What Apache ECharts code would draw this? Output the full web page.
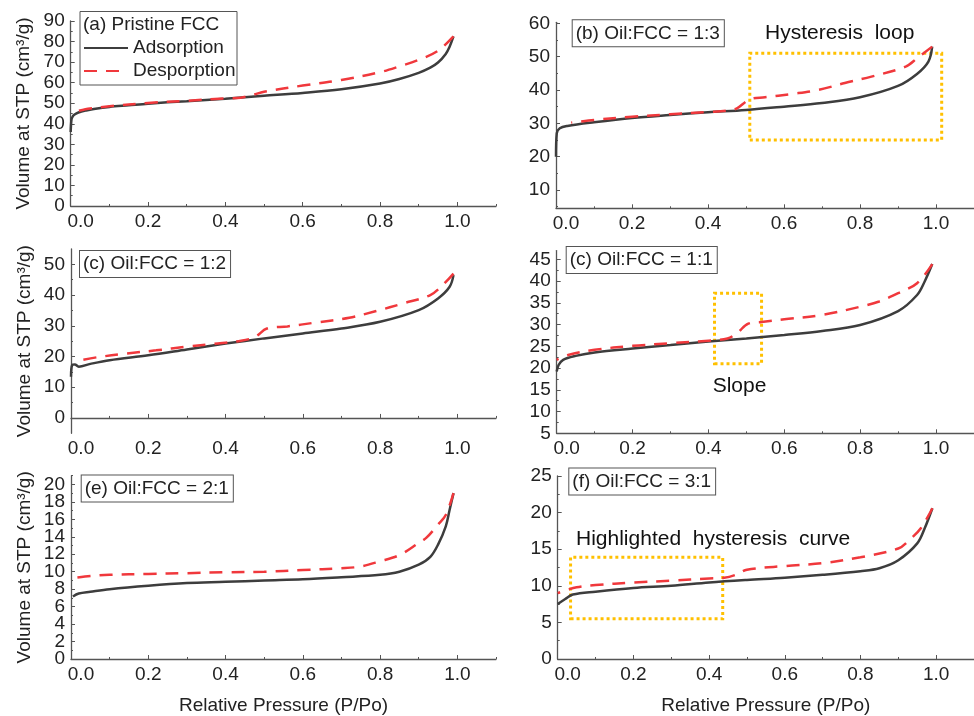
<!DOCTYPE html>
<html>
<head>
<meta charset="utf-8">
<script src="https://cdn.jsdelivr.net/npm/echarts@6/dist/echarts.min.js"></script>
<style>html,body{margin:0;padding:0;background:#fff}#main{width:974px;height:716px}</style>
</head>
<body>
<div id="main"></div>
<script>
var FONT = "'Liberation Sans', Arial, sans-serif";
var myChart = echarts.init(document.getElementById('main'));

// shared x axis
var xTicks = [0, 0.2, 0.4, 0.6, 0.8, 1.0];
var xMinor = [0.1, 0.3, 0.5, 0.7, 0.9, 1.1];
var seriesNames = ['Adsorption', 'Desporption'];
var titles = ['(a) Pristine FCC', '(b) Oil:FCC = 1:3', '(c) Oil:FCC = 1:2', '(c) Oil:FCC = 1:1', '(e) Oil:FCC = 2:1', '(f) Oil:FCC = 3:1'];

// (a) pristine
var pAdsA = [0, 0.002, 0.005, 0.01, 0.02, 0.04, 0.06, 0.1, 0.15, 0.2, 0.3, 0.4, 0.5, 0.6, 0.7, 0.8, 0.85, 0.9, 0.93, 0.95, 0.97, 0.98, 0.99];
var vAdsA = [36, 42, 43.5, 44.5, 45.5, 46.5, 47.2, 48.2, 49.0, 49.8, 51.0, 52.2, 53.6, 55.0, 56.8, 59.6, 61.8, 64.8, 67.3, 69.8, 74, 77.5, 82.5];
var pDesA = [0.99, 0.95, 0.9, 0.85, 0.8, 0.7, 0.6, 0.5, 0.47, 0.44, 0.4, 0.3, 0.2, 0.1, 0.05, 0.02];
var vDesA = [82.5, 75.5, 71.1, 67.9, 65.1, 61.3, 58.6, 55.6, 54.0, 52.7, 52.3, 51.2, 50.1, 48.5, 47.4, 46.3];
var yTicksA = [0, 10, 20, 30, 40, 50, 60, 70, 80, 90];
var yMinorA = [5, 15, 25, 35, 45, 55, 65, 75, 85];

// (b) 1:3
var pAdsB = [0, 0.002, 0.01, 0.03, 0.1, 0.2, 0.3, 0.4, 0.5, 0.6, 0.7, 0.8, 0.9, 0.95, 0.98, 0.99];
var vAdsB = [20, 27, 28.5, 29.2, 30.3, 31.6, 32.5, 33.3, 34.0, 35.0, 36.1, 37.8, 41.2, 44.8, 48.5, 53];
var pDesB = [0.99, 0.95, 0.92, 0.83, 0.76, 0.69, 0.62, 0.55, 0.51, 0.476, 0.45, 0.4, 0.3, 0.2, 0.1, 0.04];
var vDesB = [53, 49.5, 47, 44, 42.1, 40.0, 38.8, 37.8, 37.2, 34.5, 33.8, 33.4, 32.7, 32.0, 31.0, 30.2];
var yTicksB = [10, 20, 30, 40, 50, 60];
var yMinorB = [5, 15, 25, 35, 45, 55];
var boxB = [[0.51, 25], [1.015, 51]];

// (c) 1:2
var pAdsC = [0, 0.003, 0.01, 0.02, 0.05, 0.1, 0.2, 0.3, 0.4, 0.5, 0.6, 0.7, 0.8, 0.9, 0.95, 0.98, 0.99];
var vAdsC = [13.4, 17.2, 17.4, 16.7, 17.6, 18.8, 20.4, 22.3, 24.2, 25.9, 27.5, 29.1, 31.3, 35.1, 38.9, 42.7, 46.5];
var pDesC = [0.99, 0.96, 0.93, 0.86, 0.79, 0.72, 0.63, 0.56, 0.507, 0.477, 0.44, 0.37, 0.3, 0.22, 0.14, 0.07, 0.03];
var vDesC = [47, 43, 40, 37.3, 34.8, 32.6, 31.0, 29.8, 29.1, 26.4, 25.1, 24.1, 23.2, 22.0, 20.9, 19.8, 18.9];
var yTicksC = [0, 10, 20, 30, 40, 50];
var yMinorC = [5, 15, 25, 35, 45];

// (d) 1:1
var pAdsD = [0, 0.005, 0.017, 0.05, 0.1, 0.2, 0.3, 0.4, 0.5, 0.6, 0.7, 0.8, 0.9, 0.95, 0.97, 0.99];
var vAdsD = [19.2, 20.7, 21.9, 22.8, 23.6, 24.5, 25.3, 26.1, 26.8, 27.6, 28.5, 29.9, 33.1, 36.8, 39.9, 43.9];
var pDesD = [0.99, 0.95, 0.9, 0.85, 0.8, 0.7, 0.6, 0.54, 0.505, 0.475, 0.45, 0.4, 0.3, 0.2, 0.1, 0.03, 0];
var vDesD = [43.9, 39.5, 37.2, 35.3, 34.1, 32.2, 31.2, 30.6, 30.2, 28.0, 26.8, 26.3, 25.7, 25.1, 24.2, 23.0, 21.9];
var yTicksD = [5, 10, 15, 20, 25, 30, 35, 40, 45];
var yMinorD = [7.5, 12.5, 17.5, 22.5, 27.5, 32.5, 37.5, 42.5];
var boxD = [[0.416, 21], [0.54, 37.2]];

// (e) 2:1
var pAdsE = [0.005, 0.02, 0.05, 0.1, 0.2, 0.3, 0.4, 0.5, 0.6, 0.7, 0.8, 0.85, 0.9, 0.93, 0.95, 0.97, 0.98, 0.99];
var vAdsE = [7.16, 7.5, 7.7, 8.0, 8.4, 8.7, 8.84, 9.0, 9.14, 9.37, 9.64, 10.0, 10.8, 11.7, 13.1, 15.2, 17.1, 19.0];
var pDesE = [0.99, 0.97, 0.95, 0.92, 0.9, 0.85, 0.8, 0.75, 0.7, 0.6, 0.5, 0.4, 0.3, 0.2, 0.1, 0.05, 0.005];
var vDesE = [19.0, 16.5, 15.4, 13.9, 13.3, 11.9, 11.2, 10.6, 10.4, 10.2, 10.0, 9.94, 9.83, 9.75, 9.64, 9.5, 9.26];
var yTicksE = [0, 2, 4, 6, 8, 10, 12, 14, 16, 18, 20];
var yMinorE = [1, 3, 5, 7, 9, 11, 13, 15, 17, 19, 21];

// (f) 3:1
var pAdsF = [0, 0.02, 0.04, 0.1, 0.2, 0.3, 0.4, 0.5, 0.6, 0.7, 0.8, 0.85, 0.9, 0.95, 0.97, 0.99];
var vAdsF = [7.5, 8.2, 8.8, 9.2, 9.7, 10.0, 10.45, 10.8, 11.1, 11.5, 12.0, 12.4, 13.5, 15.8, 17.9, 20.6];
var pDesF = [0.99, 0.96, 0.93, 0.9, 0.8, 0.7, 0.6, 0.5, 0.47, 0.44, 0.4, 0.3, 0.2, 0.1, 0.05, 0];
var vDesF = [20.6, 17.9, 16.3, 15.1, 13.9, 13.1, 12.7, 12.2, 11.5, 11.1, 11.0, 10.7, 10.45, 10.1, 9.8, 9.0];
var yTicksF = [0, 5, 10, 15, 20, 25];
var yMinorF = [2.5, 7.5, 12.5, 17.5, 22.5];
var boxF = [[0.034, 5.5], [0.436, 13.9]];

var yRange = [[0, 90], [4.5, 60.3], [-5, 55], [5, 47], [0, 21], [0, 25]];

function pairs(px, py) {
  return px.map(function (x, i) { return [x, py[i]]; });
}
// labels are split over two stacked axes so close ones are not dropped
function everyOther(arr, odd) {
  return arr.filter(function (v, i) { return (i % 2 === 1) === odd; });
}

var panels = [
  {grid: {left: 70.7, top: 21, width: 425.3, height: 185}, ads: pairs(pAdsA, vAdsA), des: pairs(pDesA, vDesA), yT: yTicksA, yM: yMinorA, yName: true},
  {grid: {left: 556, top: 22.3, width: 425.4, height: 186}, ads: pairs(pAdsB, vAdsB), des: pairs(pDesB, vDesB), yT: yTicksB, yM: yMinorB, box: boxB},
  {grid: {left: 71, top: 249, width: 425, height: 184.3}, ads: pairs(pAdsC, vAdsC), des: pairs(pDesC, vDesC), yT: yTicksC, yM: yMinorC, yName: true},
  {grid: {left: 556.7, top: 250.6, width: 425, height: 182.7}, ads: pairs(pAdsD, vAdsD), des: pairs(pDesD, vDesD), yT: yTicksD, yM: yMinorD, box: boxD},
  {grid: {left: 71, top: 475.7, width: 425, height: 184}, ads: pairs(pAdsE, vAdsE), des: pairs(pDesE, vDesE), yT: yTicksE, yM: yMinorE, yName: true, xName: true},
  {grid: {left: 557.7, top: 476, width: 425, height: 183.3}, ads: pairs(pAdsF, vAdsF), des: pairs(pDesF, vDesF), yT: yTicksF, yM: yMinorF, box: boxF, xName: true}
];

var axisColor = '#555';
var yLabelStyle = {margin: 6, fontSize: 19, color: '#222', fontFamily: FONT, showMinLabel: true, showMaxLabel: true};
var grids = [], xAxes = [], yAxes = [], series = [];

panels.forEach(function (p, i) {
  grids.push(p.grid);
  xAxes.push({
    type: 'value', gridIndex: i, position: 'bottom', min: 0, max: 1.1,
    axisLine: {lineStyle: {color: axisColor, width: 1.3}},
    axisTick: {inside: true, length: 4, customValues: xTicks, lineStyle: {color: axisColor}},
    axisLabel: {
      customValues: xTicks, margin: 6, fontSize: 19, color: '#222', fontFamily: FONT,
      showMinLabel: true, showMaxLabel: true,
      formatter: function (v) { return v === 0 ? '{f|0.0}' : v.toFixed(1); },
      rich: {f: {padding: [0, 0, 0, 20], fontSize: 19, color: '#222', fontFamily: FONT}}
    },
    splitLine: {show: false},
    name: p.xName ? 'Relative Pressure (P/Po)' : '',
    nameLocation: 'middle', nameGap: 37,
    nameTextStyle: {fontSize: 19, color: '#222', fontFamily: FONT}
  });
  xAxes.push({
    type: 'value', gridIndex: i, position: 'bottom', min: 0, max: 1.1,
    axisLine: {show: false}, axisLabel: {show: false}, splitLine: {show: false},
    axisTick: {inside: true, length: 2, customValues: xMinor, lineStyle: {color: axisColor}}
  });
  yAxes.push({
    type: 'value', gridIndex: i, position: 'left', min: yRange[i][0], max: yRange[i][1],
    axisLine: {show: true, lineStyle: {color: axisColor, width: 1.3}},
    axisTick: {show: true, inside: true, length: 4, customValues: p.yT, lineStyle: {color: axisColor}},
    axisLabel: Object.assign({customValues: everyOther(p.yT, false)}, yLabelStyle),
    splitLine: {show: false},
    name: p.yName ? 'Volume at STP (cm³/g)' : '',
    nameLocation: 'middle', nameGap: 37,
    nameTextStyle: {fontSize: 19, color: '#222', fontFamily: FONT}
  });
  yAxes.push({
    type: 'value', gridIndex: i, position: 'left', min: yRange[i][0], max: yRange[i][1],
    axisLine: {show: false}, splitLine: {show: false},
    axisLabel: Object.assign({customValues: everyOther(p.yT, true)}, yLabelStyle),
    axisTick: {show: true, inside: true, length: 2, customValues: p.yM, lineStyle: {color: axisColor}}
  });

  series.push({
    name: seriesNames[0], type: 'line', xAxisIndex: 2 * i, yAxisIndex: 2 * i,
    data: p.ads, showSymbol: false, symbol: 'none', smooth: 0.35,
    lineStyle: {color: '#3d3d3d', width: 2.5}, itemStyle: {color: '#3d3d3d'}
  });
  var des = {
    name: seriesNames[1], type: 'line', xAxisIndex: 2 * i, yAxisIndex: 2 * i,
    data: p.des, showSymbol: false, symbol: 'none', smooth: 0.35,
    lineStyle: {color: '#f0383c', width: 2.5, type: [13, 9]}, itemStyle: {color: '#f0383c'}
  };
  if (p.box) {
    des.markArea = {
      silent: true,
      itemStyle: {color: 'rgba(0,0,0,0)', borderColor: '#ffc000', borderWidth: 3, borderType: [3, 3]},
      data: [[{coord: p.box[0]}, {coord: p.box[1]}]]
    };
  }
  series.push(des);
});

// label boxes
var labelPos = [null, [572.7, 33.3], [80, 264], [566.7, 260], [81.7, 488.5], [569.3, 481.5]];
var graphics = [
  {type: 'rect', shape: {x: 80, y: 11.5, width: 157, height: 73.5}, style: {fill: 'none', stroke: '#555', lineWidth: 1}},
  {type: 'text', x: 83, y: 25, style: {text: titles[0], fontSize: 19, fontFamily: FONT, fill: '#222', verticalAlign: 'middle'}}
];
for (var k = 1; k < 6; k++) {
  graphics.push({
    type: 'text', x: labelPos[k][0], y: labelPos[k][1],
    style: {text: titles[k], fontSize: 19, fontFamily: FONT, fill: '#222', verticalAlign: 'middle',
      borderColor: '#555', borderWidth: 1, padding: [4, 4, 3, 3], backgroundColor: '#fff'}
  });
}
// annotations
graphics.push({type: 'text', x: 765, y: 33.3, style: {text: 'Hysteresis  loop', fontSize: 21, fontFamily: FONT, fill: '#111', verticalAlign: 'middle'}});
graphics.push({type: 'text', x: 712.7, y: 386, style: {text: 'Slope', fontSize: 21, fontFamily: FONT, fill: '#111', verticalAlign: 'middle'}});
graphics.push({type: 'text', x: 576, y: 539.3, style: {text: 'Highlighted  hysteresis  curve', fontSize: 21, fontFamily: FONT, fill: '#111', verticalAlign: 'middle'}});

var option = {
  animation: false,
  backgroundColor: '#fff',
  legend: {
    data: seriesNames, left: 83, top: 38.5, orient: 'vertical', padding: 0,
    itemWidth: 44, itemHeight: 19, itemGap: 4, selectedMode: false,
    itemStyle: {color: 'rgba(0,0,0,0)', borderWidth: 0},
    textStyle: {fontSize: 19, color: '#222', fontFamily: FONT}
  },
  grid: grids,
  xAxis: xAxes,
  yAxis: yAxes,
  series: series,
  graphic: graphics
};
myChart.setOption(option);
</script>
</body>
</html>
